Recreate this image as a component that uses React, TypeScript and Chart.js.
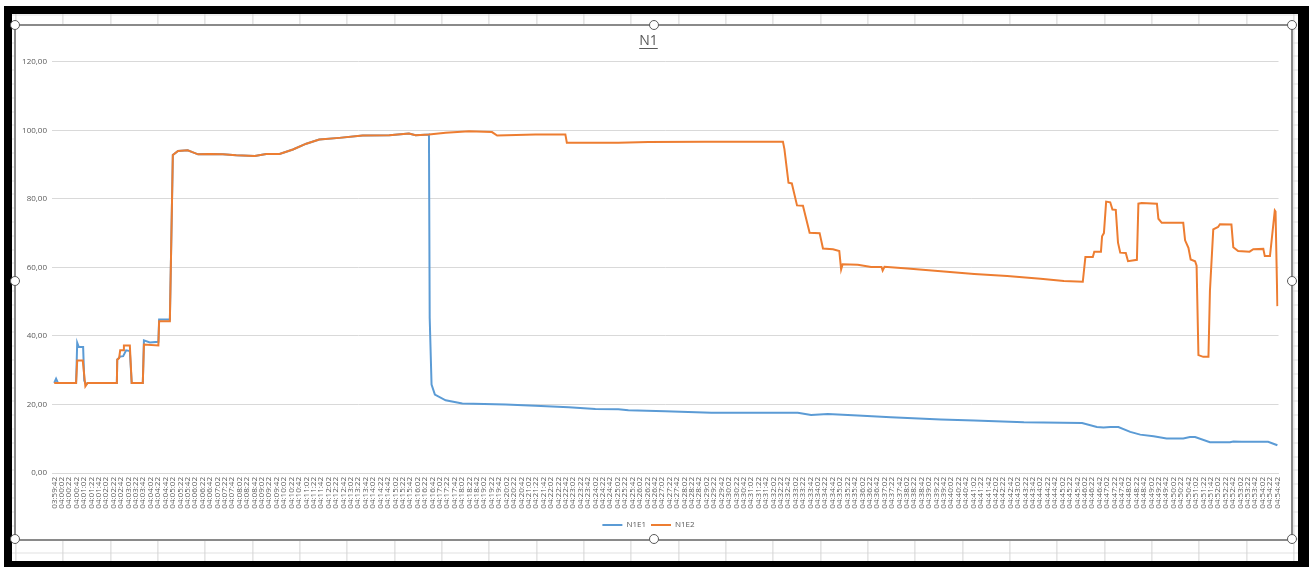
import { useEffect, useRef } from "react";
import { Chart, registerables } from "chart.js";

Chart.register(...registerables);

// Time axis: seconds elapsed since 03:59:42, one label every 20 s up to 04:54:42
const START_TIME = "03:59:42";
const TICK_STEP_SEC = 20;
const LAST_TICK_SEC = 3300;

// N1E1 readings (seconds since start, value)
const e1Sec = [
  0, 5, 10, 59, 62, 66, 78, 81, 86, 90,
  169, 170, 178, 186, 194, 204, 209, 239, 242, 258,
  281, 283, 312, 320, 334, 360, 371, 388, 420,
  455, 491, 541, 572, 608, 644, 680, 715, 769, 832,
  904, 957, 975, 1011, 1013, 1018, 1027, 1056, 1101, 1218,
  1298, 1388, 1460, 1522, 1549, 1648, 1773, 2006, 2042, 2087,
  2168, 2257, 2392, 2482, 2616, 2773, 2813, 2831, 2849, 2871,
  2903, 2930, 2966, 3001, 3046, 3064, 3078, 3118, 3172, 3181,
  3203, 3275, 3300,
];
const e1Val = [
  26.3, 27.5, 26.3, 26.3, 38.0, 36.8, 36.8, 27.0, 25.8, 26.3,
  26.3, 33.1, 34.0, 34.1, 35.8, 35.6, 26.3, 26.3, 38.7, 38.1,
  38.3, 44.8, 44.8, 92.8, 94.0, 94.2, 93.7, 93.0, 93.1,
  93.0, 92.7, 92.5, 93.1, 93.1, 94.4, 96.1, 97.3, 97.8, 98.5,
  98.6, 99.1, 98.6, 98.8, 45.3, 25.8, 22.9, 21.2, 20.3, 20.0,
  19.6, 19.2, 18.7, 18.6, 18.3, 18.0, 17.6, 17.6, 16.9, 17.2,
  16.8, 16.3, 15.6, 15.3, 14.8, 14.6, 13.4, 13.3, 13.4, 13.4,
  12.0, 11.2, 10.7, 10.1, 10.1, 10.5, 10.5, 9.0, 9.0, 9.2,
  9.1, 9.1, 8.1,
];

// N1E2 readings (seconds since start, value)
const e2Sec = [
  0, 59, 62, 77, 84, 90, 169, 170, 175, 178,
  186, 188, 204, 209, 239, 242, 281, 283, 312,
  320, 334, 360, 371, 388, 420, 455, 491, 541, 572,
  608, 644, 680, 715, 769, 832, 904, 957, 975, 1011,
  1056, 1119, 1181, 1195, 1298, 1379, 1383, 1522, 1603, 1755,
  1966, 1970, 1981, 1990, 2004, 2020, 2038, 2065, 2074, 2101,
  2118, 2123, 2127, 2168, 2204, 2232, 2235, 2240, 2302, 2392,
  2482, 2571, 2661, 2724, 2775, 2782, 2802, 2806, 2824, 2827,
  2832, 2838, 2849, 2855, 2864, 2870, 2876, 2891, 2897, 2921,
  2925, 2934, 2975, 2979, 2988, 3046, 3051, 3060, 3066, 3078,
  3082, 3087, 3100, 3114, 3118, 3127, 3140, 3145, 3176, 3181,
  3194, 3225, 3235, 3262, 3266, 3280, 3293, 3295, 3300,
];
const e2Val = [
  26.3, 26.3, 32.8, 32.8, 25.3, 26.3, 26.3, 33.1, 33.5, 35.8,
  35.8, 37.2, 37.2, 26.3, 26.3, 37.5, 37.2, 44.3, 44.3,
  92.8, 94.0, 94.2, 93.7, 93.0, 93.1, 93.0, 92.7, 92.5, 93.1,
  93.1, 94.4, 96.1, 97.3, 97.8, 98.5, 98.6, 99.1, 98.6, 98.8,
  99.3, 99.7, 99.5, 98.5, 98.8, 98.8, 96.4, 96.4, 96.6, 96.7,
  96.7, 94.5, 84.7, 84.5, 78.1, 78.0, 70.1, 70.0, 65.5, 65.3,
  64.8, 59.4, 60.9, 60.8, 60.1, 60.1, 59.1, 60.2, 59.7, 58.9,
  58.1, 57.5, 56.7, 56.0, 55.8, 63.0, 63.0, 64.6, 64.6, 69.1,
  70.0, 79.2, 79.0, 76.9, 76.8, 67.2, 64.3, 64.2, 61.8, 62.2,
  78.6, 78.8, 78.6, 74.2, 73.0, 73.0, 67.9, 65.7, 62.3, 61.8,
  60.5, 34.4, 33.9, 33.9, 53.1, 71.1, 71.8, 72.6, 72.5, 65.9,
  64.8, 64.6, 65.3, 65.4, 63.3, 63.3, 76.6, 76.3, 48.7,
];

const Y_MIN = 0;
const Y_MAX = 120;
const Y_STEP = 20;

const BLUE = "#5B9BD5";
const ORANGE = "#ED7D31";
const TEXT = "#595959";
const GRID = "#d9d9d9";
const FONT = "'Open Sans', 'Noto Sans', sans-serif";
const TITLE_SIZE = 14;
const TITLE_PAD_TOP = 7;

const startSeconds = (() => {
  const [h, m, s] = START_TIME.split(":").map(Number);
  return h * 3600 + m * 60 + s;
})();

const pad2 = (n: number) => String(n).padStart(2, "0");
const clockLabel = (offset: number) => {
  const t = startSeconds + offset;
  return `${pad2(Math.floor(t / 3600))}:${pad2(Math.floor((t % 3600) / 60))}:${pad2(t % 60)}`;
};

const toPoints = (xs: number[], ys: number[]) => xs.map((x, i) => ({ x, y: ys[i] }));

// Underline beneath the chart title
const titleUnderline = {
  id: "titleUnderline",
  afterDraw(chart: any) {
    const block = chart.titleBlock;
    if (!block) return;
    const { ctx } = chart;
    const text = chart.options.plugins.title.text as string;
    ctx.save();
    ctx.font = `normal ${TITLE_SIZE}px ${FONT}`;
    const w = ctx.measureText(text).width;
    const cx = (block.left + block.right) / 2;
    const y = Math.round(block.top + TITLE_PAD_TOP + TITLE_SIZE * 1.2 / 2 + 7) + 0.5;
    ctx.strokeStyle = TEXT;
    ctx.lineWidth = 1;
    ctx.beginPath();
    ctx.moveTo(cx - w / 2, y);
    ctx.lineTo(cx + w / 2, y);
    ctx.stroke();
    ctx.restore();
  },
};

const HANDLES: Array<[number, number]> = [
  [15, 25], [654, 25], [1292, 25],
  [15, 281], [1292, 281],
  [15, 539], [654, 539], [1292, 539],
];

export default function App() {
  const canvasRef = useRef<HTMLCanvasElement | null>(null);

  useEffect(() => {
    if (!canvasRef.current) return;
    const chart = new Chart(canvasRef.current, {
      type: "line",
      data: {
        datasets: [
          {
            label: "N1E1",
            data: toPoints(e1Sec, e1Val),
            borderColor: BLUE,
            backgroundColor: BLUE,
            borderWidth: 2,
            pointRadius: 0,
            tension: 0,
            order: 1,
          },
          {
            label: "N1E2",
            data: toPoints(e2Sec, e2Val),
            borderColor: ORANGE,
            backgroundColor: ORANGE,
            borderWidth: 2,
            pointRadius: 0,
            tension: 0,
            order: 0,
          },
        ],
      },
      plugins: [titleUnderline],
      options: {
        responsive: false,
        animation: false,
        layout: { padding: { left: 0, right: 10, top: 0, bottom: 0 } },
        plugins: {
          tooltip: { enabled: false },
          title: {
            display: true,
            text: "N1",
            color: TEXT,
            font: { family: FONT, size: TITLE_SIZE, weight: "normal" },
            padding: { top: TITLE_PAD_TOP, bottom: 12 },
          },
          legend: {
            position: "bottom",
            labels: {
              sort: (a, b) => (a.datasetIndex ?? 0) - (b.datasetIndex ?? 0),
              usePointStyle: true,
              pointStyle: "line",
              pointStyleWidth: 20,
              color: TEXT,
              padding: 5,
              font: { family: FONT, size: 8 },
            },
          },
        },
        scales: {
          x: {
            type: "linear",
            min: -6,
            max: 3303,
            afterBuildTicks: (scale) => {
              const ticks = [];
              for (let v = 0; v <= LAST_TICK_SEC; v += TICK_STEP_SEC) ticks.push({ value: v });
              scale.ticks = ticks;
            },
            afterFit: (scale) => {
              scale.height = 43;
            },
            grid: { display: false, drawTicks: false },
            border: { display: true, color: GRID, width: 1 },
            ticks: {
              autoSkip: false,
              minRotation: 90,
              maxRotation: 90,
              padding: 4,
              color: TEXT,
              font: { family: FONT, size: 8 },
              callback: (v) => clockLabel(Number(v)),
            },
          },
          y: {
            min: Y_MIN,
            max: Y_MAX,
            afterFit: (scale) => {
              scale.width = 36;
            },
            grid: { color: GRID, drawTicks: false },
            border: { display: false },
            ticks: {
              stepSize: Y_STEP,
              padding: 5,
              color: TEXT,
              font: { family: FONT, size: 8 },
              callback: (v) => Number(v).toFixed(2).replace(".", ","),
            },
          },
        },
      },
    });
    return () => chart.destroy();
  }, []);

  return (
    <div
      style={{
        position: "fixed",
        left: 0,
        top: 0,
        width: 1309,
        height: 567,
        background: "#ffffff",
        overflow: "hidden",
      }}
    >
      {/* dark frame */}
      <div
        style={{
          position: "absolute",
          left: 4,
          top: 6,
          width: 1305,
          height: 561,
          boxSizing: "border-box",
          borderStyle: "solid",
          borderColor: "#000",
          borderWidth: "8px 11px 6px 8px",
        }}
      />
      {/* worksheet cells behind the chart */}
      <div
        style={{
          position: "absolute",
          left: 12,
          top: 14,
          width: 1286,
          height: 547,
          backgroundColor: "#ffffff",
          backgroundImage:
            "repeating-linear-gradient(to right, #d4d4d4 0px, #d4d4d4 1px, transparent 1px, transparent 47.33px)," +
            "repeating-linear-gradient(to bottom, #e1e1e1 0px, #e1e1e1 1px, transparent 1px, transparent 13.8px)",
          backgroundPosition: "3.4px 0px, 0px 0.5px",
        }}
      />
      {/* chart box */}
      <div
        style={{
          position: "absolute",
          left: 14,
          top: 24,
          width: 1279,
          height: 517,
          boxSizing: "border-box",
          border: "2px solid #8a8a8a",
          background: "#ffffff",
        }}
      >
        <canvas ref={canvasRef} width={1275} height={513} style={{ display: "block" }} />
      </div>
      {HANDLES.map(([x, y], i) => (
        <div
          key={i}
          style={{
            position: "absolute",
            left: x - 5,
            top: y - 5,
            width: 10,
            height: 10,
            boxSizing: "border-box",
            borderRadius: "50%",
            border: "1.5px solid #5a5a5a",
            background: "#ffffff",
          }}
        />
      ))}
    </div>
  );
}
